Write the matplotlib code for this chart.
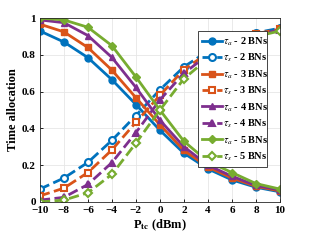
import matplotlib
matplotlib.use('Agg')
import matplotlib.pyplot as plt

p_tc = [-10, -8, -6, -4, -2, 0, 2, 4, 6, 8, 10]

tau_a_2 = [0.93, 0.87, 0.785, 0.665, 0.53, 0.39, 0.265, 0.18, 0.12, 0.08, 0.055]
tau_s_2 = [0.07, 0.13, 0.215, 0.335, 0.47, 0.61, 0.735, 0.82, 0.88, 0.92, 0.945]
tau_a_3 = [0.967, 0.925, 0.84, 0.717, 0.567, 0.42, 0.28, 0.19, 0.13, 0.085, 0.06]
tau_s_3 = [0.033, 0.075, 0.16, 0.283, 0.433, 0.58, 0.72, 0.81, 0.87, 0.915, 0.94]
tau_a_4 = [0.99, 0.975, 0.905, 0.786, 0.623, 0.445, 0.30, 0.20, 0.14, 0.09, 0.065]
tau_s_4 = [0.01, 0.025, 0.095, 0.214, 0.377, 0.555, 0.70, 0.80, 0.86, 0.91, 0.935]
tau_a_5 = [1.0, 0.99, 0.95, 0.85, 0.68, 0.50, 0.33, 0.22, 0.16, 0.10, 0.07]
tau_s_5 = [0.0, 0.01, 0.05, 0.15, 0.32, 0.50, 0.67, 0.78, 0.84, 0.90, 0.93]

series = [
    (tau_a_2, tau_s_2, '2', '#0072BD', 'o'),
    (tau_a_3, tau_s_3, '3', '#D95319', 's'),
    (tau_a_4, tau_s_4, '4', '#7E2F8E', '^'),
    (tau_a_5, tau_s_5, '5', '#77AC30', 'D'),
]

plt.rcParams['font.family'] = ['Liberation Serif', 'DejaVu Serif']
plt.rcParams['mathtext.fontset'] = 'stix'

fig = plt.figure(figsize=(3.09, 2.41), dpi=100)
ax = fig.add_axes([0.129, 0.162, 0.777, 0.763])

for ya, ys, n, color, marker in series:
    ms = 5 if marker != 'D' else 4
    ax.plot(p_tc, ya, color=color, marker=marker, linestyle='-', linewidth=2,
            markersize=ms, label=r'$\tau_a$ - %s BNs' % n)
    ax.plot(p_tc, ys, color=color, marker=marker, linestyle='--', linewidth=2,
            markersize=ms, markerfacecolor='white' if marker != '^' else color,
            markeredgewidth=1.5, label=r'$\tau_s$ - %s BNs' % n)

ax.set_xlim(-10, 10)
ax.set_ylim(0, 1)
ax.set_xticks(p_tc)
ax.set_yticks([0, 0.2, 0.4, 0.6, 0.8, 1])
ax.set_yticklabels(['0', '0.2', '0.4', '0.6', '0.8', '1'])
ax.grid(True, color='#e6e6e6', linewidth=0.6)
ax.set_axisbelow(True)
for sp in ax.spines.values():
    sp.set_linewidth(0.6)
    sp.set_color('#262626')
ax.tick_params(direction='in', length=2.5, width=0.6, labelsize=8, pad=3)
for lbl in ax.get_xticklabels() + ax.get_yticklabels():
    lbl.set_fontweight('bold')

ax.set_xlabel(r'P$_{\mathbf{tc}}$ (dBm)', fontsize=9, fontweight='bold', labelpad=2)
ax.set_ylabel('Time allocation', fontsize=9, fontweight='bold', labelpad=2)

# fixed legend box, same spot as the original figure
leg = ax.legend(loc='upper left', bbox_to_anchor=(0.658, 0.174, 0.29, 0.755),
                mode='expand', prop={'weight': 'bold', 'size': 7.5},
                handlelength=1.9, handletextpad=0.15, labelspacing=0.38,
                borderpad=0.4, borderaxespad=0, fancybox=False, framealpha=1)
leg.get_frame().set_edgecolor('#262626')
leg.get_frame().set_linewidth(0.6)

fig.savefig('out.png', dpi=100)
